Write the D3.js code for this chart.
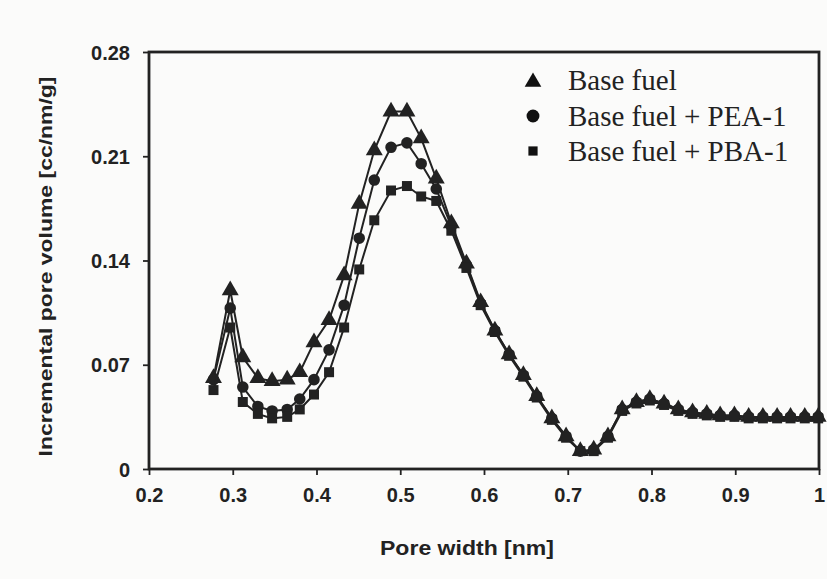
<!DOCTYPE html>
<html>
<head>
<meta charset="utf-8">
<script src="https://cdn.jsdelivr.net/npm/d3@7/dist/d3.min.js"></script>
<style>
  html, body { margin: 0; padding: 0; background: #fbfbfa; }
  svg { display: block; }
</style>
</head>
<body>
<div id="chart"></div>
<script>
// Pore width grid (nm), shared by all three samples
const poreWidth = [
  0.277, 0.297, 0.312, 0.330, 0.347, 0.365, 0.380, 0.397, 0.415, 0.433,
  0.451, 0.469, 0.489, 0.508, 0.525, 0.543, 0.561, 0.579, 0.596, 0.613,
  0.630, 0.647, 0.663, 0.681, 0.698, 0.715, 0.731, 0.748, 0.765, 0.782,
  0.798, 0.815, 0.832, 0.849, 0.866, 0.882, 0.899, 0.916, 0.933, 0.950,
  0.966, 0.983, 0.999
];

// Incremental pore volume (cc/nm/g)
const baseFuel = [
  0.061, 0.120, 0.075, 0.061, 0.059, 0.060, 0.065, 0.085, 0.100, 0.130,
  0.178, 0.214, 0.240, 0.240, 0.222, 0.195, 0.165, 0.138, 0.112, 0.093,
  0.077, 0.063, 0.049, 0.034, 0.022, 0.012, 0.013, 0.022, 0.040, 0.045,
  0.047, 0.044, 0.040, 0.038, 0.037, 0.036, 0.036, 0.035, 0.035, 0.035,
  0.035, 0.035, 0.035
];
const baseFuelPEA = [
  0.060, 0.108, 0.055, 0.042, 0.039, 0.040, 0.047, 0.060, 0.080, 0.110,
  0.155, 0.194, 0.216, 0.219, 0.205, 0.188, 0.163, 0.137, 0.111, 0.093,
  0.077, 0.063, 0.049, 0.034, 0.022, 0.012, 0.013, 0.022, 0.040, 0.045,
  0.047, 0.044, 0.040, 0.038, 0.037, 0.036, 0.036, 0.035, 0.035, 0.035,
  0.035, 0.035, 0.035
];
const baseFuelPBA = [
  0.053, 0.095, 0.045, 0.037, 0.034, 0.035, 0.040, 0.050, 0.065, 0.095,
  0.134, 0.167, 0.187, 0.190, 0.183, 0.180, 0.160, 0.135, 0.110, 0.092,
  0.076, 0.062, 0.048, 0.033, 0.021, 0.012, 0.012, 0.021, 0.039, 0.044,
  0.046, 0.043, 0.039, 0.037, 0.036, 0.035, 0.035, 0.034, 0.034, 0.034,
  0.034, 0.034, 0.034
];

const seriesNames = ["Base fuel", "Base fuel + PEA-1", "Base fuel + PBA-1"];
const seriesShapes = [d3.symbolTriangle, d3.symbolCircle, d3.symbolSquare];
const xTicks = [0.2, 0.3, 0.4, 0.5, 0.6, 0.7, 0.8, 0.9, 1];
const yTicks = [0, 0.07, 0.14, 0.21, 0.28];

const W = 827, H = 579;
const margin = { left: 149, right: 8, top: 52, bottom: 110 };
const ink = "#222";

const svg = d3.select("#chart").append("svg")
  .attr("width", W).attr("height", H);

const x = d3.scaleLinear().domain([0.2, 1]).range([margin.left, W - margin.right]);
const y = d3.scaleLinear().domain([0, 0.28]).range([H - margin.bottom, margin.top]);

// Plot frame
svg.append("rect")
  .attr("x", x(0.2)).attr("y", y(0.28))
  .attr("width", x(1) - x(0.2)).attr("height", y(0) - y(0.28))
  .attr("fill", "none").attr("stroke", ink).attr("stroke-width", 2.8);

// Axes
const fmtY = d => d === 0 ? "0" : d3.format(".2f")(d);
const fmtX = d => d === 1 ? "1" : d3.format(".1f")(d);

const xAxis = svg.append("g")
  .attr("transform", `translate(0,${y(0)})`)
  .call(d3.axisBottom(x).tickValues(xTicks).tickFormat(fmtX).tickSizeInner(6).tickSizeOuter(0).tickPadding(10));
const yAxis = svg.append("g")
  .attr("transform", `translate(${x(0.2)},0)`)
  .call(d3.axisLeft(y).tickValues(yTicks).tickFormat(fmtY).tickSizeInner(6).tickSizeOuter(0).tickPadding(13));

[xAxis, yAxis].forEach(g => {
  g.select(".domain").remove();
  g.selectAll(".tick line").attr("stroke", ink).attr("stroke-width", 1.8);
  g.selectAll(".tick text")
    .attr("fill", ink)
    .style("font-family", "'Liberation Sans', Arial, sans-serif")
    .style("font-weight", "bold")
    .style("font-size", "20px");
});
xAxis.selectAll(".tick text").attr("dy", "0.85em");
yAxis.selectAll(".tick text").attr("dy", "0.36em");

// Axis titles
svg.append("text")
  .attr("x", 467).attr("y", 555)
  .attr("text-anchor", "middle")
  .attr("fill", ink)
  .attr("textLength", 174).attr("lengthAdjust", "spacingAndGlyphs")
  .style("font-family", "'Liberation Sans', Arial, sans-serif")
  .style("font-weight", "bold").style("font-size", "20px")
  .text("Pore width [nm]");

svg.append("text")
  .attr("transform", `translate(52,${(y(0) + y(0.28)) / 2 + 6}) rotate(-90)`)
  .attr("text-anchor", "middle")
  .attr("fill", ink)
  .attr("textLength", 380).attr("lengthAdjust", "spacingAndGlyphs")
  .style("font-family", "'Liberation Sans', Arial, sans-serif")
  .style("font-weight", "bold").style("font-size", "19px")
  .text("Incremental pore volume [cc/nm/g]");

// Series: lines and markers
const allSeries = [baseFuel, baseFuelPEA, baseFuelPBA];
const line = d3.line().x(d => x(d[0])).y(d => y(d[1]));
const symbolSizes = [125, 105, 100];

allSeries.forEach((vals, i) => {
  const pts = poreWidth.map((w, k) => [w, vals[k]]);
  svg.append("path")
    .datum(pts)
    .attr("d", line)
    .attr("fill", "none")
    .attr("stroke", ink)
    .attr("stroke-width", 2);
  svg.append("g").selectAll("path")
    .data(pts)
    .join("path")
    .attr("transform", d => `translate(${x(d[0])},${y(d[1])})`)
    .attr("d", d3.symbol().type(seriesShapes[i]).size(symbolSizes[i]))
    .attr("fill", ink);
});

// Legend
const legend = svg.append("g");
const legendY = [80, 116, 151];
const legendSizes = [120, 130, 85];
seriesNames.forEach((name, i) => {
  legend.append("path")
    .attr("transform", `translate(533,${legendY[i] + (i === 0 ? 2 : 0)})`)
    .attr("d", d3.symbol().type(seriesShapes[i]).size(legendSizes[i]))
    .attr("fill", "#111");
  legend.append("text")
    .attr("x", 568).attr("y", legendY[i])
    .attr("dy", "0.35em")
    .attr("fill", "#222")
    .style("font-family", "'Liberation Serif', 'Times New Roman', serif")
    .style("font-size", "29px")
    .text(name);
});
</script>
</body>
</html>
